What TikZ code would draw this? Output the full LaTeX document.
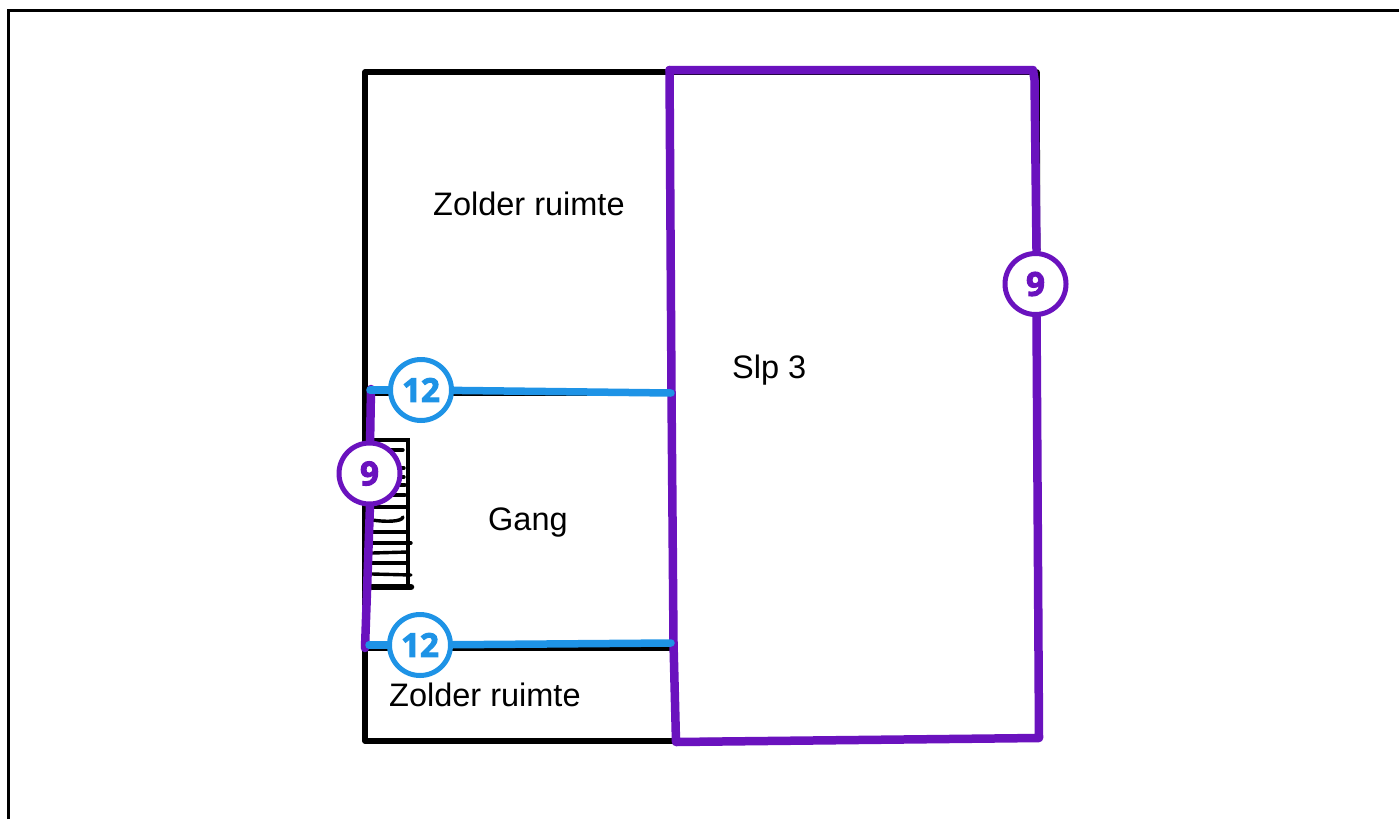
\documentclass[tikz,border=0pt]{standalone}
\usepackage{fontspec}
\setmainfont{Liberation Sans}
\newfontfamily\badgefont{Open Sans}[BoldFeatures={FakeBold=3}]
\definecolor{purp}{HTML}{6A12BE}
\definecolor{blu}{HTML}{1E93E6}
\tikzset{
  x=1pt,y=-1pt,
  wall/.style={draw=black,line width=5.5pt,line cap=round,line join=round},
  thinfr/.style={draw=black,line width=3.4pt},
  run/.style={line width=8.5pt,line cap=round,line join=round},
  bluerun/.style={line width=7.5pt,line cap=round,line join=round,draw=blu},
  tread/.style={draw=black,line width=3.4pt,line cap=round},
  room/.style={font=\fontsize{32.5}{36}\selectfont,inner sep=0pt,text=black},
  badge/.style={circle,draw=#1,fill=white,line width=5pt,minimum size=61pt,inner sep=0pt,text=#1,font=\badgefont\bfseries\fontsize{33}{34}\selectfont},
}
\begin{document}
\begin{tikzpicture}
\useasboundingbox (0,0) rectangle (1399,819);
% sheet frame
\draw[thinfr] (8.5,819) -- (8.5,10.5) -- (1399,10.5);
% building walls
\draw[wall] (669,72) -- (365,72) -- (365,741) -- (672,741);
\draw[wall] (669,72) -- (1037,72) -- (1039,738) -- (676,741);
\draw[wall] (366,393) -- (670,393);
\draw[wall] (366,648) -- (670,648);
% stairs
\draw[draw=black,line width=3.4pt] (368,440) -- (408,440) -- (408,588);
\draw[tread] (372,450) -- (403,450);
\draw[tread] (394,468) -- (404,468);
\draw[tread] (392,477) -- (404,477);
\draw[tread] (372,485) -- (405,485);
\draw[tread] (372,495) -- (405,495);
\draw[tread] (372,507) -- (406,507);
\draw[tread] (372,520) .. controls (385,522) and (402,522) .. (403,517);
\draw[tread] (372,532) -- (408,532);
\draw[tread] (372,543) -- (411,543);
\draw[tread] (372,553) -- (408,552);
\draw[tread] (372,563) -- (407,563);
\draw[tread] (372,574) -- (411,575);
\draw[draw=black,line width=6.5pt,line cap=round] (372,587) -- (411,587);
% purple outline of Slp 3
\draw[run,draw=purp] (669.5,70) -- (1033,70) -- (1034.5,80) -- (1036.5,250);
\draw[run,draw=purp] (1036.5,316) -- (1039,738) -- (676,742) -- (673.5,643) -- (671.5,393) -- (669.5,70);
% purple left run
\draw[run,draw=purp] (371,389) -- (370,445);
\draw[run,draw=purp] (370,505) -- (365,648);
% blue runs
\coordinate (bl1) at (370,390);
\coordinate (br1) at (671,393);
\coordinate (bl2) at (369,645);
\coordinate (br2) at (671,643);
\node[badge=blu] (b1) at (421,390) {12};
\node[badge=blu] (b2) at (420,645) {12};
\draw[bluerun] (bl1) -- (b1);
\draw[bluerun] (b1) -- (br1);
\draw[bluerun] (bl2) -- (b2);
\draw[bluerun] (b2) -- (br2);
% badges
\node[badge=purp] (p1) at (1035.5,284) {9};
\node[badge=purp] (p2) at (369.5,473.5) {9};
% labels
\node[room,anchor=base west] (z1) at (433,215) {Zolder ruimte};
\node[room,anchor=base west] (s1) at (732,378) {Slp 3};
\node[room,anchor=base west] (g1) at (488,530) {Gang};
\node[room,anchor=base west] (z2) at (389,706) {Zolder ruimte};
\end{tikzpicture}
\end{document}
